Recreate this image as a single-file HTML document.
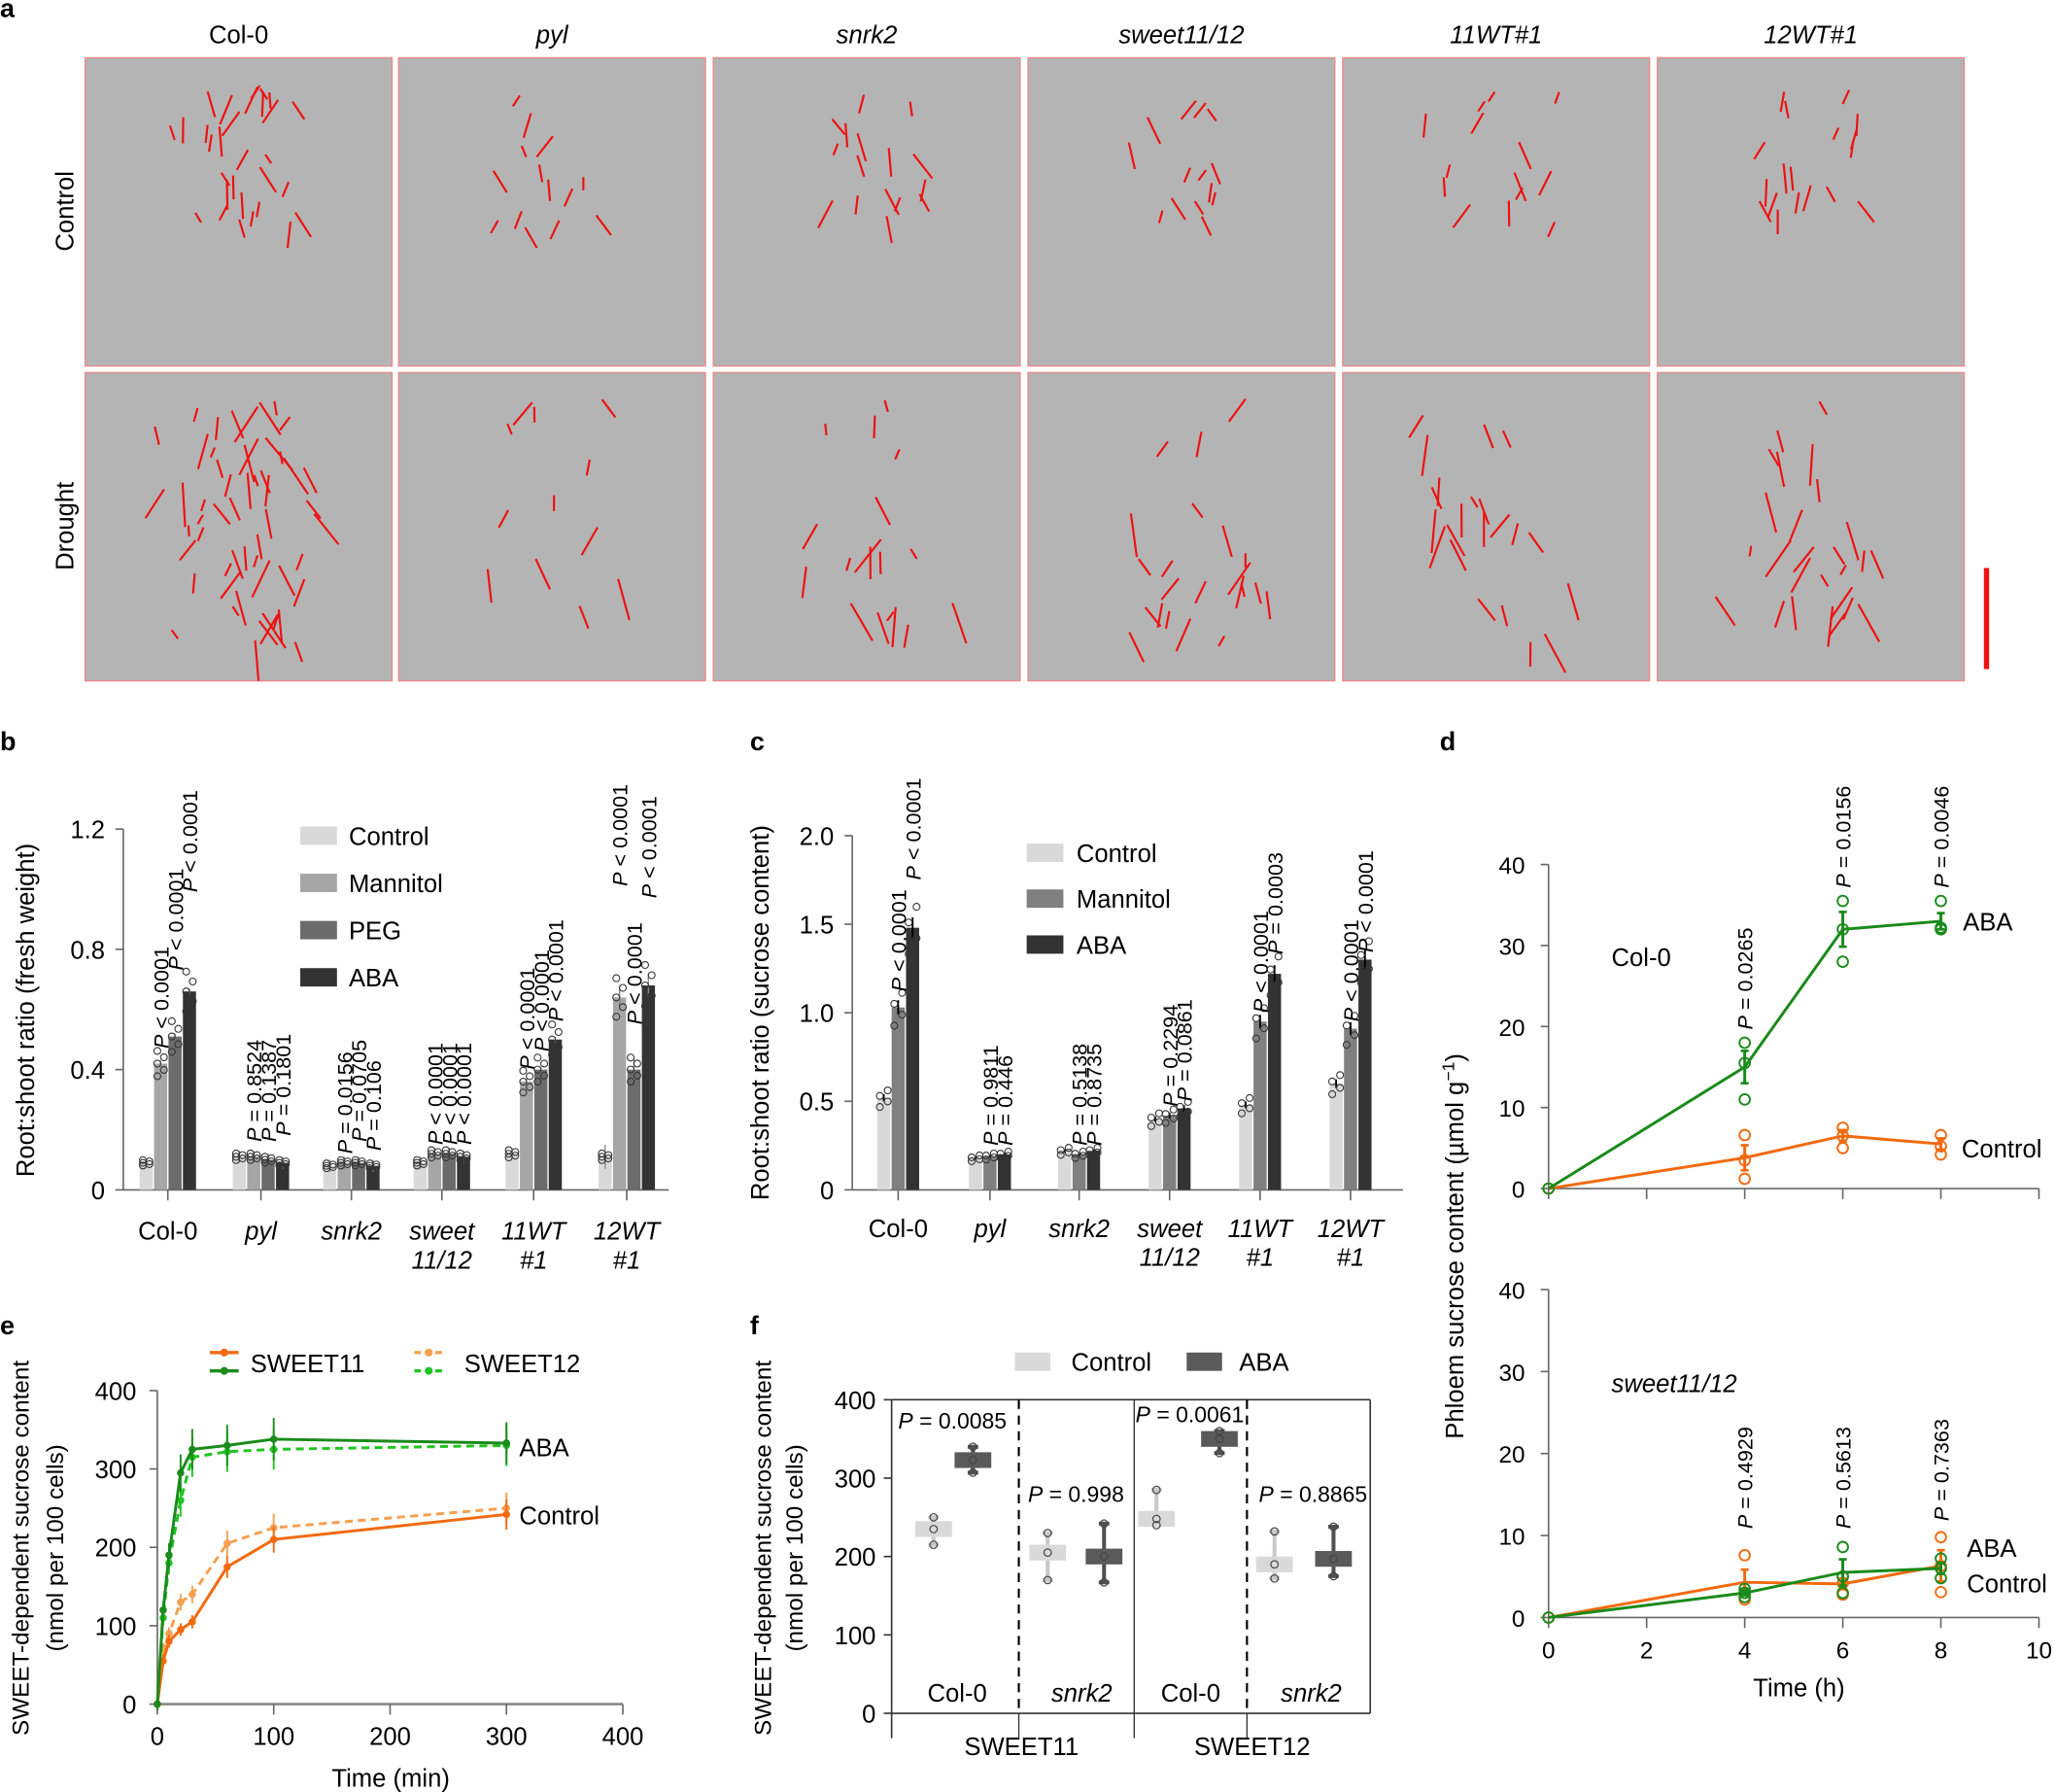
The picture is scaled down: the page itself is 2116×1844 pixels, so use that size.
<!DOCTYPE html>
<html><head><meta charset="utf-8">
<style>
html,body{margin:0;padding:0;background:#fff;}
svg{display:block;font-family:"Liberation Sans",Arial,sans-serif;}
</style></head>
<body>
<svg id="fig" xmlns="http://www.w3.org/2000/svg" width="2116" height="1844" viewBox="0 0 1568 1366" preserveAspectRatio="none"></svg>
<script>
// ---------- DATA ----------
const bGroups = ['Col-0','pyl','snrk2','sweet11/12','11WT#1','12WT#1'];
const bTreat = ['Control','Mannitol','PEG','ABA'];
const bControl = [0.09,0.11,0.08,0.09,0.12,0.11];
const bMannitol = [0.42,0.11,0.09,0.12,0.36,0.64];
const bPEG = [0.51,0.10,0.09,0.12,0.40,0.40];
const bABA = [0.66,0.09,0.08,0.11,0.50,0.68];
const bErr = [0.01,0.02,0.02,0.02,0.01,0.04];
const bPtext = [['< 0.0001','< 0.0001','< 0.0001'],['= 0.8524','= 0.1387','= 0.1801'],['= 0.0156','= 0.0705','= 0.106'],['< 0.0001','< 0.0001','< 0.0001'],['< 0.0001','< 0.0001','< 0.0001'],['< 0.0001','< 0.0001','< 0.0001']];
const bPanchor = [[0.47,0.73,0.99],[0.16,0.16,0.18],[0.12,0.16,0.13],[0.15,0.15,0.15],[0.40,0.46,0.56],[1.01,0.55,0.97]];
const bTicks = [0,0.4,0.8,1.2];

const cControl = [0.52,0.18,0.22,0.40,0.48,0.60];
const cMannitol = [1.03,0.19,0.20,0.42,0.95,0.91];
const cABA = [1.48,0.20,0.22,0.46,1.22,1.30];
const cPtext = [['< 0.0001','< 0.0001'],['= 0.9811','= 0.446'],['= 0.5138','= 0.8735'],['= 0.2294','= 0.0861'],['< 0.0001','= 0.0003'],['< 0.0001','< 0.0001']];
const cPanchor = [[1.12,1.75],[0.25,0.25],[0.25,0.25],[0.47,0.5],[1.0,1.33],[0.95,1.34]];
const cTicks = [0,0.5,1.0,1.5,2.0];

const dTime = [0,4,6,8];
const dColABA = [0,15,32,33];
const dColCtl = [0,3.8,6.5,5.5];
const dSwABA = [0,3,5.5,6];
const dSwCtl = [0,4.3,4.1,6.3];
const dColABApts = [[0],[11,15.5,18],[28,32,35.5],[32,32.2,35.5]];
const dColCtlpts = [[0],[1.2,3.5,6.6],[5,6.5,7.5],[4.2,5.2,6.6]];
const dSwABApts = [[0],[2.5,3,3.5],[3,5,8.6],[4.8,6,7.2]];
const dSwCtlpts = [[0],[2.2,3,7.6],[2.8,4.2,5],[3.1,6.3,9.8]];
const dColP = ['= 0.0265','= 0.0156','= 0.0046'];
const dSwP = ['= 0.4929','= 0.5613','= 0.7363'];
const dTicks = [0,10,20,30,40];
const dXTicks = [0,2,4,6,8,10];

const eTime11 = [0,5,10,20,30,60,100,300];
const e11Ctl = [0,55,80,95,105,175,210,242];
const e11ABA = [0,120,190,295,325,330,338,333];
const eTime12 = [0,5,10,20,30,60,100,300];
const e12Ctl = [0,70,90,130,140,205,225,250];
const e12ABA = [0,110,180,260,315,322,325,330];
const eYTicks = [0,100,200,300,400];
const eXTicks = [0,100,200,300,400];

const fBoxLabels = ['SWEET11 Col-0','SWEET11 snrk2','SWEET12 Col-0','SWEET12 snrk2'];
const fCtlMed = [235,205,248,190];
const fCtlMin = [215,170,240,172];
const fCtlMax = [250,230,285,232];
const fABAMed = [323,200,350,197];
const fABAMin = [307,167,332,175];
const fABAMax = [340,242,360,238];
const fP = ['= 0.0085','= 0.998','= 0.0061','= 0.8865'];
const fTicks = [0,100,200,300,400];

// ---------- HELPERS ----------
const NS='http://www.w3.org/2000/svg';
const svg=document.getElementById('fig');
function mk(tag,parent){const e=document.createElementNS(NS,tag);(parent||svg).appendChild(e);return e;}
function sa(e,o){for(const k in o)e.setAttribute(k,o[k]);return e;}
function txt(s,x,y,size,parent,opts){const t=mk('text',parent);sa(t,{x:x,y:y,'font-size':size,fill:'#000'});if(opts)sa(t,opts);t.textContent=s;return t;}
function ptxt(s,x,y,size,parent){ // rotated "P xxx" with italic P
  const t=mk('text',parent);sa(t,{x:0,y:0,'font-size':size,fill:'#000',transform:'translate('+x+','+y+') rotate(-90)'});
  const a=mk('tspan',t);a.setAttribute('font-style','italic');a.textContent='P';
  const b=mk('tspan',t);b.textContent=' '+s;return t;}
function line(x1,y1,x2,y2,st,w,parent){const l=mk('line',parent);sa(l,{x1:x1,y1:y1,x2:x2,y2:y2,stroke:st,'stroke-width':w});return l;}

// ---------- PANEL A ----------
const gA=mk('g');


txt('a',0,13,20,gA,{'font-weight':'bold'});
const aCols=[65,304,544,784,1024,1264];
const aTitles=['Col-0','pyl','snrk2','sweet11/12','11WT#1','12WT#1'];
const aRows=[44,284];
let seed=7;function rnd(){seed=(seed*16807)%2147483647;return seed/2147483647;}
aTitles.forEach((t,i)=>{
  const tt=txt(t,aCols[i]+117,33,19,gA,{'text-anchor':'middle','font-style':i?'italic':'normal'});
  
  
});
const rl1=txt('Control',0,0,19,gA,{'text-anchor':'middle',transform:'translate(56,161) rotate(-90)'});


const rl2=txt('Drought',0,0,19,gA,{'text-anchor':'middle',transform:'translate(56,401) rotate(-90)'});


const nLines=[[30,14,16,14,14,18],[55,12,18,22,22,26]];
aRows.forEach((ry,r)=>{aCols.forEach((cx,c)=>{
  const rect=mk('rect',gA);sa(rect,{x:cx,y:ry,width:234,height:235,fill:'#b4b4b4',stroke:'#e88a8a','stroke-width':1});
  
  
  const n=nLines[r][c];const spreadY=r?190:110;const spreadX=r?150:110;
  for(let k=0;k<n;k++){
    const x=cx+117+(rnd()-0.5)*spreadX*(0.4+0.6*rnd());
    const y=ry+20+rnd()*spreadY;
    const len=8+rnd()*(r?26:16);const ang=(rnd()-0.5)*1.4;
    line(x,y,x+Math.sin(ang)*len,y+Math.cos(ang)*len,'#ee1111',1.6,gA);
  }
});});
const sb=line(1515,433,1515,510,'#ee1111',4,gA);


// ---------- PANEL B ----------
const gB=mk('g');


txt('b',0,572,20,gB,{'font-weight':'bold'});
const byS=v=>907-v/1.2*275;
const bx=[128,199,268,337,407,478];
const bOff=[-16.5,-5.5,5.5,16.5];
const bCols=['#d9d9d9','#a6a6a6','#6b6b6b','#333333'];
const bSeries=[bControl,bMannitol,bPEG,bABA];
line(94,byS(1.2),94,907,'#666',1.2,gB);
line(94,907,510,907,'#666',1.2,gB);
bTicks.forEach(v=>{line(88,byS(v),94,byS(v),'#666',1.2,gB);
  const t=txt(String(v),80,byS(v)+7,19,gB,{'text-anchor':'end'});
  
  });
const byt=txt('Root:shoot ratio (fresh weight)',0,0,19,gB,{'text-anchor':'middle',transform:'translate(26,770) rotate(-90)'});


const bLab=[['Col-0'],['pyl'],['snrk2'],['sweet','11/12'],['11WT','#1'],['12WT','#1']];
bx.forEach((x,g)=>{
  line(x,907,x,915,'#666',1.2,gB);
  bLab[g].forEach((s,j)=>{const t=txt(s,x,945+j*22,19,gB,{'text-anchor':'middle','font-style':g?'italic':'normal'});
    
    });
  bSeries.forEach((ser,s)=>{
    const v=ser[g];const r=mk('rect',gB);
    sa(r,{x:x+bOff[s]-5,y:byS(v),width:10,height:907-byS(v),fill:bCols[s]});
    
    
    line(x+bOff[s],byS(v+bErr[g]),x+bOff[s],byS(Math.max(0,v-bErr[g])),'#888',1,gB);
    for(let k=0;k<5;k++){const c=mk('circle',gB);sa(c,{cx:x+bOff[s]+(k%2?2.5:-2.5),cy:byS(v*(0.9+k*0.05)),r:2.6,fill:'none',stroke:'#333','stroke-width':0.8});}
    if(s>0){const p=ptxt(bPtext[g][s-1],x+bOff[s]+6,byS(bPanchor[g][s-1]),16,gB);
      
      }
  });
});
bTreat.forEach((t,i)=>{const r=mk('rect',gB);sa(r,{x:229,y:630+i*36,width:28,height:14,fill:bCols[i]});
  
  
  const tt=txt(t,266,644+i*36,19,gB);
  
  });

// ---------- PANEL C ----------
const gC=mk('g');


txt('c',572,572,20,gC,{'font-weight':'bold'});
const cyS=v=>907-v/2*270;
const cx=[685,755,823,892,961,1030];
const cOff=[-11,0,11];
const cCols=['#d9d9d9','#808080','#333333'];
const cNames=['Control','Mannitol','ABA'];
const cSeries=[cControl,cMannitol,cABA];
line(650,cyS(2),650,907,'#666',1.2,gC);
line(650,907,1070,907,'#666',1.2,gC);
cTicks.forEach(v=>{line(644,cyS(v),650,cyS(v),'#666',1.2,gC);
  const t=txt(v===0?'0':v.toFixed(1),636,cyS(v)+7,19,gC,{'text-anchor':'end'});
  
  });
const cyt=txt('Root:shoot ratio (sucrose content)',0,0,19,gC,{'text-anchor':'middle',transform:'translate(586,772) rotate(-90)'});


cx.forEach((x,g)=>{
  line(x,907,x,915,'#666',1.2,gC);
  bLab[g].forEach((s,j)=>{const t=txt(s,x,943+j*22,19,gC,{'text-anchor':'middle','font-style':g?'italic':'normal'});
    
    });
  cSeries.forEach((ser,s)=>{
    const v=ser[g];const r=mk('rect',gC);
    sa(r,{x:x+cOff[s]-5,y:cyS(v),width:10,height:907-cyS(v),fill:cCols[s]});
    
    
    line(x+cOff[s],cyS(v*1.04),x+cOff[s],cyS(v*0.96),'#000',1.4,gC);
    for(let k=0;k<4;k++){const c=mk('circle',gC);sa(c,{cx:x+cOff[s]+(k%2?3:-3),cy:cyS(v*(0.9+k*0.06)),r:2.6,fill:'none',stroke:'#333','stroke-width':0.8});}
    if(s>0){const p=ptxt(cPtext[g][s-1],x+cOff[s]+6,cyS(cPanchor[g][s-1]),16,gC);
      
      }
  });
});
cNames.forEach((t,i)=>{const r=mk('rect',gC);sa(r,{x:783,y:643+i*35,width:28,height:14,fill:cCols[i]});
  
  
  const tt=txt(t,821,657+i*35,19,gC);
  
  });

// ---------- PANEL D ----------
const gD=mk('g');


txt('d',1098,572,20,gD,{'font-weight':'bold'});
const dx=t=>1181+t/10*374;
const GREEN='#1a8a1a',ORANGE='#f26a0f';
function dPanel(y0,h,abaV,ctlV,abaP,ctlP,pTxt,title,showX){
  const ys=v=>y0-v/40*h;
  line(1181,ys(40),1181,y0,'#666',1.2,gD);
  line(1181,y0,1555,y0,'#666',1.2,gD);
  dTicks.forEach(v=>{line(1175,ys(v),1181,ys(v),'#666',1.2,gD);
    const t=txt(String(v),1163,ys(v)+7,18,gD,{'text-anchor':'end'});
    
    });
  dXTicks.forEach(t=>{line(dx(t),y0,dx(t),y0+8,'#666',1.2,gD);
    if(showX){const l=txt(String(t),dx(t),y0+31,18,gD,{'text-anchor':'middle'});
      
      }});
  [[ctlV,ctlP,ORANGE,'control'],[abaV,abaP,GREEN,'aba']].forEach(([vals,pts,col,nm])=>{
    const pl=mk('polyline',gD);sa(pl,{points:dTime.map((t,i)=>dx(t)+','+ys(vals[i])).join(' '),fill:'none',stroke:col,'stroke-width':2.2});
    
    
    dTime.forEach((t,i)=>{
      pts[i].forEach(p=>{const c=mk('circle',gD);sa(c,{cx:dx(t),cy:ys(p),r:4,fill:'none',stroke:col,'stroke-width':1.4});});
      if(i>0){const e=(Math.max(...pts[i])-Math.min(...pts[i]))/3.5;
        line(dx(t),ys(vals[i]+e),dx(t),ys(vals[i]-e),col,2.2,gD);
        line(dx(t)-3,ys(vals[i]+e),dx(t)+3,ys(vals[i]+e),col,2,gD);
        line(dx(t)-3,ys(vals[i]-e),dx(t)+3,ys(vals[i]-e),col,2,gD);}
    });
  });
  const tt=txt(title,title==='Col-0'?1229:1229,title==='Col-0'?ys(27.5):ys(27.5),19,gD,{'font-style':title==='Col-0'?'normal':'italic'});
  
  
  return ys;
}
const ysTop=dPanel(906,247,dColABA,dColCtl,dColABApts,dColCtlpts,dColP,'Col-0',false);
dColP.forEach((p,i)=>{const y=ysTop(Math.max(...dColABApts[i+1]))-10;
  const t=ptxt(p,dx(dTime[i+1])+6,y,16,gD);
  
  });
const l1=txt('ABA',1497,ysTop(33)+7,19,gD);


const l2=txt('Control',1496,ysTop(5)+7,19,gD);


const ysBot=dPanel(1233,250,dSwABA,dSwCtl,dSwABApts,dSwCtlpts,dSwP,'sweet11/12',true);
dSwP.forEach((p,i)=>{const y=ysBot(10.5)-2;
  const t=ptxt(p,dx(dTime[i+1])+6,y-(i===2?6:0),16,gD);
  
  });
const l3=txt('ABA',1500,ysBot(8.5)+7,19,gD);


const l4=txt('Control',1500,ysBot(4.2)+7,19,gD);


const dxt=txt('Time (h)',1372,1293,19,gD,{'text-anchor':'middle'});


const dyt=mk('text',gD);sa(dyt,{x:0,y:0,'font-size':19,'text-anchor':'middle',transform:'translate(1116,950) rotate(-90)'});
dyt.textContent='Phloem sucrose content (µmol g';
const sup=mk('tspan',dyt);sa(sup,{dy:-7,'font-size':13});sup.textContent='−1';
const sup2=mk('tspan',dyt);sa(sup2,{dy:7});sup2.textContent=')';



// ---------- PANEL E ----------
const gE=mk('g');


txt('e',0,1017,20,gE,{'font-weight':'bold'});
const ex=t=>120+t/400*355;
const ey=v=>1299-v/400*239;
line(120,ey(400),120,1299,'#666',1.2,gE);
line(120,1299,475,1299,'#888',2,gE);
eYTicks.forEach(v=>{line(114,ey(v),120,ey(v),'#666',1.2,gE);
  const t=txt(String(v),104,ey(v)+7,19,gE,{'text-anchor':'end'});
  
  });
eXTicks.forEach(v=>{line(ex(v),1299,ex(v),1307,'#666',1.2,gE);
  const t=txt(String(v),ex(v),1330,19,gE,{'text-anchor':'middle'});
  
  });
const ext=txt('Time (min)',298,1362,19,gE,{'text-anchor':'middle'});


const eyt=mk('text',gE);sa(eyt,{x:0,y:0,'font-size':18,'text-anchor':'middle',transform:'translate(22,1180) rotate(-90)'});eyt.textContent='SWEET-dependent sucrose content';


const eyt2=mk('text',gE);sa(eyt2,{x:0,y:0,'font-size':18,'text-anchor':'middle',transform:'translate(48,1180) rotate(-90)'});eyt2.textContent='(nmol per 100 cells)';


[[eTime12,e12Ctl,'#f5a050',true,'sweet12-control'],[eTime12,e12ABA,'#22c422',true,'sweet12-aba'],[eTime11,e11Ctl,ORANGE,false,'sweet11-control'],[eTime11,e11ABA,GREEN,false,'sweet11-aba']].forEach(([ts,vs,col,dash,nm])=>{
  const pl=mk('polyline',gE);sa(pl,{points:ts.map((t,i)=>ex(t)+','+ey(vs[i])).join(' '),fill:'none',stroke:col,'stroke-width':2.2});
  if(dash)pl.setAttribute('stroke-dasharray','6,4');
  
  
  ts.forEach((t,i)=>{const c=mk('circle',gE);sa(c,{cx:ex(t),cy:ey(vs[i]),r:2.8,fill:col});
    const sp=Math.max(8,vs[i]*0.08);
    line(ex(t),ey(vs[i]+sp),ex(t),ey(vs[i]-sp),col,1.4,gE);});
});
const ea=txt('ABA',396,1110,19,gE);


const ec=txt('Control',396,1162,19,gE);


// legend
[[160,ORANGE,false,1031],[160,GREEN,false,1045],[316,'#f5a050',true,1031],[316,'#22c422',true,1045]].forEach(([x,col,d,y])=>{
  const l=line(x,y,x+22,y,col,2.5,gE);if(d)l.setAttribute('stroke-dasharray','5,3');
  
  const c=mk('circle',gE);sa(c,{cx:x+11,cy:y,r:3,fill:col});});
const el1=txt('SWEET11',191,1046,19,gE);


const el2=txt('SWEET12',354,1046,19,gE);



// ---------- PANEL F ----------
const gF=mk('g');


txt('f',572,1017,20,gF,{'font-weight':'bold'});
const fy=v=>1306-v/400*239;
line(680,fy(400),1045,fy(400),'#333',1.2,gF);
line(680,1306,1045,1306,'#333',1.2,gF);
line(680,fy(400),680,1325,'#333',1.2,gF);
line(1045,fy(400),1045,1306,'#333',1.2,gF);
line(865,fy(400),865,1325,'#333',1,gF);
[777,951].forEach(x=>{const l=line(x,fy(400),x,1306,'#000',1.6,gF);l.setAttribute('stroke-dasharray','7,5');
  line(x,1306,x,1325,'#333',1,gF);});
fTicks.forEach(v=>{line(674,fy(v),680,fy(v),'#333',1.2,gF);
  const t=txt(String(v),668,fy(v)+7,19,gF,{'text-anchor':'end'});
  
  });
const fyt=mk('text',gF);sa(fyt,{x:0,y:0,'font-size':18,'text-anchor':'middle',transform:'translate(588,1180) rotate(-90)'});fyt.textContent='SWEET-dependent sucrose content';


const fyt2=mk('text',gF);sa(fyt2,{x:0,y:0,'font-size':18,'text-anchor':'middle',transform:'translate(612,1180) rotate(-90)'});fyt2.textContent='(nmol per 100 cells)';


const fCx=[[712,742],[799,842],[882,930],[972,1017]];
const fTxt=[['Col-0',730,false],['snrk2',825,true],['Col-0',908,false],['snrk2',1000,true]];
fBoxLabels.forEach((lab,i)=>{
  [[fCtlMed,fCtlMin,fCtlMax,'#d9d9d9','#c8c8c8','control'],[fABAMed,fABAMin,fABAMax,'#5a5a5a','#505050','aba']].forEach(([med,mn,mx,col,wc,nm],k)=>{
    const x=fCx[i][k];
    line(x,fy(mx[i]),x,fy(mn[i]),wc,3,gF);
    line(x-4,fy(mx[i]),x+4,fy(mx[i]),wc,3,gF);
    line(x-4,fy(mn[i]),x+4,fy(mn[i]),wc,3,gF);
    const r=mk('rect',gF);sa(r,{x:x-14,y:fy(med[i])-6,width:28,height:12,fill:col});
    
    
    [mn[i],med[i],mx[i]].forEach(v=>{const c=mk('circle',gF);sa(c,{cx:x,cy:fy(v),r:2.8,fill:'none',stroke:'#444','stroke-width':0.9});});
  });
  const p=mk('text',gF);sa(p,{x:[685,784,866,960][i],y:[1089,1145,1084,1145][i],'font-size':17});
  const a=mk('tspan',p);a.setAttribute('font-style','italic');a.textContent='P';
  const b=mk('tspan',p);b.textContent=' '+fP[i];
  
  
  const t=txt(fTxt[i][0],fTxt[i][1],1297,19,gF,{'text-anchor':'middle','font-style':fTxt[i][2]?'italic':'normal'});
  
  
});
const fs1=txt('SWEET11',779,1338,19,gF,{'text-anchor':'middle'});


const fs2=txt('SWEET12',955,1338,19,gF,{'text-anchor':'middle'});


const fl1=mk('rect',gF);sa(fl1,{x:774,y:1031,width:27,height:14,fill:'#d9d9d9'});


const flt1=txt('Control',817,1045,19,gF);


const fl2=mk('rect',gF);sa(fl2,{x:905,y:1031,width:27,height:14,fill:'#5a5a5a'});


const flt2=txt('ABA',945,1045,19,gF);


</script>
</body></html>
